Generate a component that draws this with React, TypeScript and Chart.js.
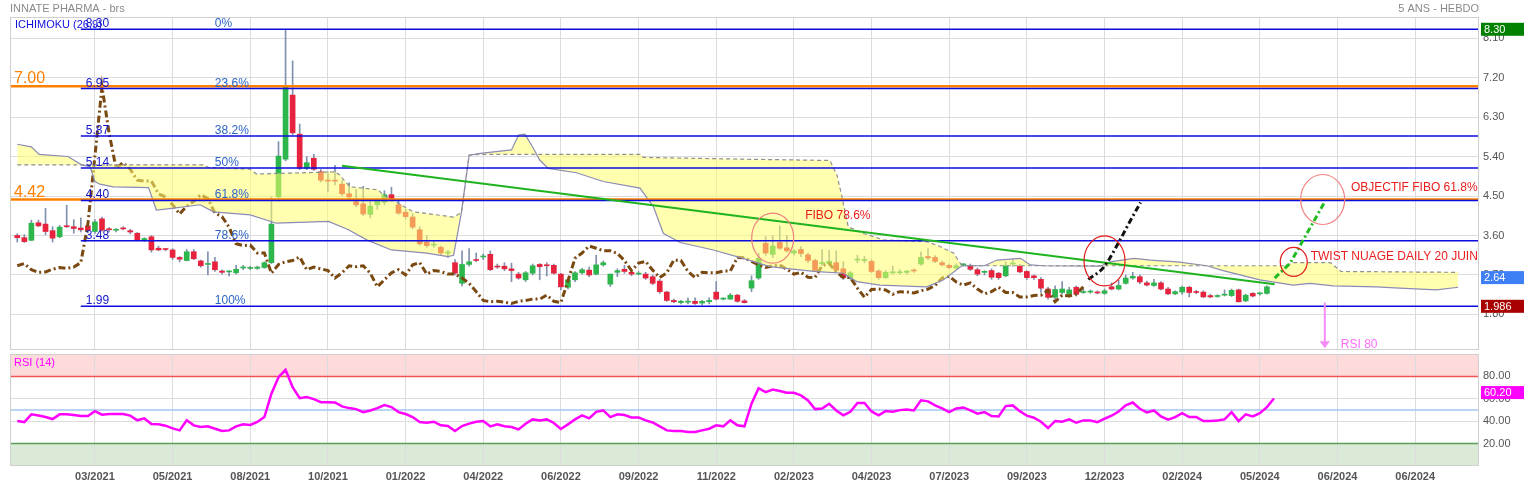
import React, { useEffect, useRef } from 'react';
import { Chart, registerables } from 'chart.js';

Chart.register(...registerables);

const FONT = "'Liberation Sans', Arial, sans-serif";

// ---------- axis / labels ----------
const xLabels = ['03/2021', '05/2021', '08/2021', '10/2021', '01/2022', '04/2022', '06/2022', '09/2022', '11/2022', '02/2023', '04/2023', '07/2023', '09/2023', '12/2023', '02/2024', '05/2024', '06/2024', '06/2024'];
const priceTicks = [1.8, 2.7, 3.6, 4.5, 5.4, 6.3, 7.2, 8.1];
const rsiTicks = [20, 40, 60, 80];

// ---------- weekly candles (index 0 .. 177) ----------
const opens = [
  3.60, 3.55, 3.49, 3.89, 3.86, 3.71, 3.57, 3.82, 3.80, 3.77,
  3.82, 3.69, 3.98, 3.74, 3.72, 3.77, 3.71, 3.65, 3.50, 3.57,
  3.31, 3.29, 3.27, 3.10, 3.03, 3.23, 3.02, 2.94, 3.00, 2.79,
  2.77, 2.75, 2.86, 2.85, 2.85, 2.87, 2.98, 4.48, 5.34, 6.80,
  5.91, 5.13, 5.36, 5.05, 4.86, 4.85, 4.77, 4.55, 4.37, 4.32,
  4.08, 4.30, 4.36, 4.53, 4.30, 4.13, 4.02, 3.73, 3.45, 3.38,
  3.33, 3.20, 2.98, 2.51, 2.94, 3.05, 3.11, 3.17, 2.90, 2.90,
  2.84, 2.72, 2.59, 2.74, 2.94, 2.92, 2.92, 2.72, 2.42, 2.59,
  2.75, 2.81, 2.72, 2.93, 2.49, 2.76, 2.83, 2.76, 2.72, 2.72,
  2.66, 2.56, 2.31, 2.12, 2.07, 2.08, 2.10, 2.06, 2.09, 2.31,
  2.15, 2.15, 2.24, 2.11, 2.40, 2.63, 3.42, 3.17, 3.44, 3.32,
  3.20, 3.28, 3.16, 3.03, 2.96, 2.96, 2.98, 2.84, 2.63, 3.04,
  3.03, 3.01, 2.79, 2.64, 2.75, 2.75, 2.76, 2.81, 2.95, 3.12,
  3.10, 2.98, 2.92, 2.86, 2.93, 2.91, 2.82, 2.76, 2.80, 2.74,
  2.68, 2.95, 2.90, 2.78, 2.68, 2.60, 2.38, 2.19, 2.30, 2.26,
  2.42, 2.30, 2.31, 2.31, 2.28, 2.43, 2.38, 2.51, 2.63, 2.66,
  2.52, 2.46, 2.52, 2.38, 2.27, 2.31, 2.42, 2.31, 2.31, 2.23,
  2.21, 2.24, 2.23, 2.36, 2.11, 2.28, 2.27, 2.28,
];
const highs = [
  3.64, 3.62, 3.95, 3.95, 4.22, 3.80, 3.83, 4.29, 3.96, 4.00,
  3.90, 3.96, 4.02, 3.78, 3.76, 3.80, 3.74, 3.67, 3.55, 3.60,
  3.36, 3.30, 3.30, 3.12, 3.28, 3.28, 3.04, 3.23, 3.10, 2.82,
  2.80, 2.92, 2.92, 2.90, 2.90, 3.00, 4.48, 5.74, 8.30, 7.58,
  6.14, 5.40, 5.45, 5.10, 5.05, 5.20, 4.85, 4.80, 4.65, 4.72,
  4.40, 4.45, 4.62, 4.70, 4.42, 4.20, 4.10, 3.80, 3.60, 3.48,
  3.36, 3.26, 3.05, 3.25, 3.30, 3.20, 3.18, 3.25, 2.95, 2.98,
  2.97, 2.76, 2.78, 2.95, 2.96, 2.98, 2.95, 2.74, 2.62, 2.78,
  2.85, 2.88, 3.15, 3.02, 2.72, 2.84, 2.92, 2.80, 2.78, 2.76,
  2.70, 2.60, 2.33, 2.15, 2.12, 2.18, 2.18, 2.12, 2.18, 2.55,
  2.18, 2.28, 2.26, 2.14, 2.68, 3.20, 3.58, 3.60, 3.82, 3.60,
  3.28, 3.35, 3.20, 3.06, 3.28, 3.26, 3.25, 3.00, 2.78, 3.15,
  3.12, 3.05, 2.82, 2.80, 2.90, 2.82, 2.80, 2.84, 3.22, 3.30,
  3.14, 3.02, 2.95, 2.95, 2.96, 2.95, 2.86, 2.80, 2.84, 2.76,
  3.00, 3.05, 2.94, 2.80, 2.70, 2.64, 2.42, 2.45, 2.55, 2.42,
  2.45, 2.38, 2.36, 2.34, 2.38, 2.52, 2.58, 2.70, 2.76, 2.70,
  2.56, 2.60, 2.55, 2.42, 2.34, 2.45, 2.44, 2.35, 2.34, 2.26,
  2.25, 2.36, 2.38, 2.38, 2.26, 2.30, 2.30, 2.45,
];
const lows = [
  3.45, 3.44, 3.48, 3.80, 3.62, 3.45, 3.55, 3.78, 3.65, 3.68,
  3.66, 3.65, 3.70, 3.68, 3.68, 3.73, 3.64, 3.48, 3.46, 3.22,
  3.25, 3.25, 3.05, 3.00, 3.02, 3.05, 2.88, 2.70, 2.78, 2.72,
  2.68, 2.72, 2.82, 2.82, 2.83, 2.85, 2.96, 4.38, 5.30, 5.90,
  5.10, 5.10, 5.08, 4.82, 4.60, 4.75, 4.50, 4.40, 4.25, 4.05,
  4.00, 4.20, 4.30, 4.38, 4.08, 3.98, 3.75, 3.38, 3.33, 3.33,
  3.15, 3.10, 2.70, 2.45, 2.90, 3.00, 3.05, 2.80, 2.85, 2.80,
  2.55, 2.60, 2.55, 2.70, 2.59, 2.68, 2.72, 2.36, 2.38, 2.55,
  2.72, 2.66, 2.70, 2.90, 2.44, 2.66, 2.74, 2.68, 2.70, 2.60,
  2.48, 2.28, 2.10, 2.07, 2.04, 2.04, 2.03, 2.02, 2.04, 2.13,
  2.13, 2.14, 2.08, 2.06, 2.32, 2.60, 3.15, 3.10, 3.28, 3.22,
  3.15, 3.12, 2.98, 2.78, 2.92, 2.92, 2.78, 2.60, 2.60, 2.98,
  2.98, 2.75, 2.60, 2.62, 2.72, 2.72, 2.72, 2.76, 2.92, 3.05,
  2.98, 2.90, 2.84, 2.84, 2.90, 2.80, 2.68, 2.70, 2.60, 2.60,
  2.66, 2.90, 2.75, 2.60, 2.60, 2.30, 2.15, 2.16, 2.26, 2.20,
  2.22, 2.28, 2.28, 2.27, 2.26, 2.36, 2.36, 2.49, 2.60, 2.50,
  2.45, 2.44, 2.36, 2.25, 2.25, 2.26, 2.20, 2.27, 2.18, 2.18,
  2.19, 2.22, 2.21, 2.08, 2.09, 2.20, 2.24, 2.26,
];
const closes = [
  3.55, 3.46, 3.88, 3.82, 3.69, 3.54, 3.79, 3.80, 3.76, 3.73,
  3.73, 3.91, 3.72, 3.73, 3.72, 3.75, 3.68, 3.50, 3.53, 3.27,
  3.27, 3.28, 3.10, 3.06, 3.23, 3.07, 2.91, 2.96, 2.82, 2.76,
  2.77, 2.83, 2.87, 2.85, 2.88, 2.98, 3.86, 5.41, 6.99, 5.94,
  5.13, 5.26, 5.11, 4.86, 4.84, 4.84, 4.55, 4.48, 4.30, 4.09,
  4.27, 4.38, 4.53, 4.44, 4.11, 4.03, 3.79, 3.41, 3.37, 3.38,
  3.20, 3.20, 2.74, 2.94, 3.00, 3.03, 3.11, 2.82, 2.88, 2.84,
  2.80, 2.63, 2.75, 2.91, 2.89, 2.91, 2.74, 2.43, 2.59, 2.75,
  2.82, 2.70, 2.93, 2.98, 2.72, 2.80, 2.78, 2.72, 2.72, 2.63,
  2.51, 2.32, 2.12, 2.09, 2.10, 2.08, 2.05, 2.10, 2.12, 2.15,
  2.15, 2.24, 2.10, 2.07, 2.57, 3.08, 3.20, 3.36, 3.31, 3.25,
  3.25, 3.19, 3.03, 2.80, 2.97, 3.01, 2.81, 2.64, 2.75, 3.04,
  3.03, 2.78, 2.64, 2.76, 2.75, 2.75, 2.79, 2.79, 3.10, 3.09,
  3.01, 2.93, 2.87, 2.91, 2.93, 2.83, 2.72, 2.76, 2.65, 2.64,
  2.91, 2.96, 2.77, 2.64, 2.64, 2.40, 2.19, 2.37, 2.38, 2.36,
  2.26, 2.32, 2.31, 2.29, 2.34, 2.38, 2.46, 2.63, 2.67, 2.54,
  2.47, 2.52, 2.38, 2.27, 2.32, 2.42, 2.30, 2.30, 2.20, 2.20,
  2.23, 2.24, 2.35, 2.09, 2.24, 2.22, 2.27, 2.43,
];
const CHIKOU_SHIFT = 26;

// ---------- Ichimoku cloud spans: [week index, price] ----------
const senkouSolid = [
  [0, 5.68], [2.0, 5.62], [3.1, 5.45], [7.2, 5.40], [9.1, 5.21], [10.3, 5.17], [11.0, 4.83], [11.7, 4.77],
  [13.6, 4.71], [18.6, 4.69], [19.7, 4.18], [21.9, 4.22], [25.9, 4.30], [27.8, 4.14], [33.0, 4.07], [36.7, 3.88],
  [44.1, 3.92], [46.9, 3.73], [49.5, 3.50], [53.0, 3.27], [58.0, 3.20], [61.0, 3.12], [61.8, 3.15], [62.9, 4.11],
  [64.0, 5.43], [65.6, 5.47], [70.0, 5.55], [71.0, 5.89], [71.9, 5.91], [73.1, 5.59], [74.0, 5.32], [75.2, 5.13],
  [79.2, 5.03], [83.0, 4.83], [88.2, 4.68], [90.1, 4.26], [91.5, 3.65], [93.9, 3.44], [98.6, 3.27], [102.8, 3.08],
  [106.6, 2.89], [112.8, 2.78], [117.0, 2.74], [118.9, 2.55], [122.2, 2.47], [128.8, 2.43], [131.2, 2.59], [133.8, 2.91],
  [137.0, 2.91], [138.8, 3.04], [142.1, 3.08], [143.5, 2.93], [145.3, 2.91], [153.4, 2.90], [154.8, 3.00], [158.2, 3.08],
  [160.5, 3.04], [164.3, 3.00], [168.5, 2.91], [170.8, 2.80], [176.0, 2.59], [180.7, 2.47], [183.1, 2.51], [186.4, 2.45],
  [192.5, 2.43], [195.8, 2.40], [201.0, 2.36], [204.1, 2.42],
];
const senkouDashed = [
  [0, 5.21], [26.3, 5.21], [27.1, 5.15], [33.0, 5.11], [33.9, 5.00], [45.0, 5.05], [45.5, 5.00], [47.1, 4.71],
  [51.1, 4.64], [51.9, 4.52], [56.1, 4.14], [61.8, 4.02], [62.9, 4.12], [64.0, 5.43], [65.5, 5.45], [88.2, 5.45],
  [88.7, 5.38], [102.4, 5.34], [115.1, 5.31], [116.1, 4.98], [116.8, 4.49], [117.7, 3.80], [119.8, 3.65], [122.7, 3.50],
  [128.8, 3.46], [130.7, 3.35], [132.6, 3.20], [133.8, 2.91], [179.5, 2.91], [180.8, 2.98], [186.0, 2.98], [187.5, 2.78],
  [204.1, 2.76],
];

// ---------- drawn lines ----------
const trendLine = [[46.0, 5.19], [178.1, 2.49]];
const blackProjection = [[151.7, 2.60], [153.9, 2.88], [156.2, 3.50], [157.6, 3.92], [159.1, 4.35]];
const greenProjection = [[178.1, 2.63], [180.3, 2.97], [185.2, 4.37]];
const fibLevels = [8.30, 6.95, 5.87, 5.14, 4.40, 3.48, 1.99];
const fibPercents = ['0%', '23.6%', '38.2%', '50%', '61.8%', '78.6%', '100%'];
const FIB_START = 9;
const orangeLevels = [7.00, 4.42];

// ---------- annotations (data coordinates) ----------
const ellipses = [
  { x: 107.0, y: 3.54, rx: 21, ry: 25, strong: false },
  { x: 154.0, y: 3.02, rx: 20.5, ry: 25, strong: true },
  { x: 184.9, y: 4.42, rx: 22, ry: 25, strong: false },
  { x: 180.8, y: 3.0, rx: 13.5, ry: 14.5, strong: true },
];
const notes = [
  { text: 'FIBO 78.6%', x: 111.6, y: 4.05 },
  { text: 'OBJECTIF FIBO 61.8%', x: 188.9, y: 4.70 },
  { text: 'TWIST NUAGE DAILY 20 JUIN', x: 183.2, y: 3.12 },
];
const rsiArrow = { x: 185.2, from: 2.07, to: 1.03, labelY: 1.11 };
const priceTags = [
  { v: 8.30, text: '8.30', bg: '#008000' },
  { v: 2.64, text: '2.64', bg: '#3f7ff5' },
  { v: 1.986, text: '1.986', bg: '#a80000' },
];

// ---------- RSI (index 0 .. 178) ----------
const rsi = [
  40.1, 39.2, 46.1, 45, 43.7, 41.9, 46.1, 46.1, 45.5, 44.7,
  44.7, 49, 45.8, 46.4, 46.4, 46.4, 45, 40.8, 42.5, 37.5,
  37.2, 36, 33.6, 31.8, 40.8, 36.3, 34.8, 35.4, 33.3, 31.2,
  31.8, 35.4, 37.2, 36.6, 39.3, 43.7, 64.5, 79.3, 85.9, 70.4,
  60.6, 61.5, 59.7, 57, 57, 56.7, 53.2, 51.7, 50.8, 48.1,
  49.6, 51.7, 54.4, 52.6, 48.1, 46.4, 43.7, 39.2, 38.6, 39.5,
  36.3, 35.7, 31.2, 35.7, 37.8, 39.5, 40.1, 35.4, 37.2, 35.5,
  34.8, 32.7, 37.8, 41.6, 40.7, 41.6, 38.4, 33, 37.2, 41.6,
  45.2, 42.5, 48.4, 49.6, 43.7, 46.1, 45.5, 43.4, 43.4, 40.7,
  38.9, 35.4, 31.8, 31.2, 31.2, 30.3, 30.3, 31.8, 33.3, 36.3,
  35.4, 40.7, 36.3, 35.4, 55.6, 69.5, 66, 68.3, 66.9, 65.4,
  65.4, 63, 58.6, 50.8, 51.4, 55.6, 49.6, 45.2, 48.4, 56.2,
  56.2, 48.7, 45.2, 49, 48.4, 49.9, 50.5, 49.6, 58.6, 57.7,
  54.1, 51.4, 48.1, 51.4, 52.3, 49.6, 46.7, 48.1, 44.6, 44.3,
  53.5, 54.1, 49, 44.9, 43.1, 39.5, 33.9, 40.1, 39.5, 41.6,
  38.6, 40.7, 40.7, 39.2, 42.2, 44.9, 48.7, 54.1, 56.7, 51.1,
  47.8, 49.6, 44.3, 41.3, 43.7, 47.2, 43.7, 43.7, 40.1, 40.1,
  40.7, 41.6, 48.1, 40.1, 46.1, 44.3, 47.2, 52.6, 60.2,
];

// ---------- layout constants ----------
const XMIN = -1.03;
const XMAX = 206.9;
const gridIdx = xLabels.map((_, k) => 11 + 11 * k);
const UP = '#2db64c';
const DOWN = '#e6223d';
const WICK = '#8090ad';

const pts = (arr: number[][]) => arr.map(([x, y]) => ({ x, y }));

const mainDeco = {
  id: 'mainDeco',
  afterDatasetsDraw(chart: any) {
    const { ctx, chartArea: a } = chart;
    const xs = chart.scales.x;
    const ys = chart.scales.y;
    ctx.save();
    ctx.textAlign = 'left';
    ctx.textBaseline = 'alphabetic';
    ctx.font = `12px ${FONT}`;
    const fx = xs.getPixelForValue(FIB_START);
    fibLevels.forEach((lv, k) => {
      const py = ys.getPixelForValue(lv);
      ctx.fillStyle = '#1414c8';
      ctx.fillText(lv.toFixed(2), fx + 5, py - 2);
      ctx.fillStyle = '#2c64c6';
      ctx.fillText(fibPercents[k], fx + 134, py - 2);
    });
    ctx.font = `16px ${FONT}`;
    ctx.fillStyle = '#ff8000';
    orangeLevels.forEach((lv) => ctx.fillText(lv.toFixed(2), a.left + 4, ys.getPixelForValue(lv) - 3));

    ctx.font = `11px ${FONT}`;
    ctx.fillStyle = '#1010dd';
    ctx.textBaseline = 'middle';
    ctx.fillText('ICHIMOKU (26,9)', a.left + 5, a.top + 8);

    ellipses.forEach((e) => {
      ctx.beginPath();
      ctx.ellipse(xs.getPixelForValue(e.x), ys.getPixelForValue(e.y), e.rx, e.ry, 0, 0, Math.PI * 2);
      ctx.strokeStyle = e.strong ? '#e21a1a' : '#f08080';
      ctx.lineWidth = 1.2;
      ctx.stroke();
    });

    ctx.font = `12px ${FONT}`;
    ctx.fillStyle = '#e81c1c';
    notes.forEach((n) => ctx.fillText(n.text, xs.getPixelForValue(n.x), ys.getPixelForValue(n.y)));

    const ax = xs.getPixelForValue(rsiArrow.x);
    const ay0 = ys.getPixelForValue(rsiArrow.from);
    const ay1 = ys.getPixelForValue(rsiArrow.to);
    ctx.strokeStyle = '#f68af6';
    ctx.lineWidth = 2;
    ctx.beginPath();
    ctx.moveTo(ax, ay0);
    ctx.lineTo(ax, ay1 - 6);
    ctx.stroke();
    ctx.fillStyle = '#f68af6';
    ctx.beginPath();
    ctx.moveTo(ax - 5, ay1 - 7);
    ctx.lineTo(ax + 5, ay1 - 7);
    ctx.lineTo(ax, ay1);
    ctx.closePath();
    ctx.fill();
    ctx.fillStyle = '#ff6cff';
    ctx.fillText('RSI 80', ax + 16, ys.getPixelForValue(rsiArrow.labelY));
    ctx.restore();
  },
  afterDraw(chart: any) {
    const { ctx, chartArea: a } = chart;
    const ys = chart.scales.y;
    ctx.save();
    ctx.strokeStyle = '#cfcfcf';
    ctx.lineWidth = 1;
    ctx.strokeRect(a.left + 0.5, a.top + 0.5, a.right - a.left, a.bottom - a.top - 1);
    ctx.font = `11px ${FONT}`;
    ctx.textBaseline = 'middle';
    ctx.textAlign = 'left';
    priceTags.forEach((t) => {
      const py = ys.getPixelForValue(t.v);
      ctx.fillStyle = t.bg;
      ctx.fillRect(a.right + 3, py - 6.5, chart.width - a.right - 3, 13);
      ctx.fillStyle = '#ffffff';
      ctx.fillText(t.text, a.right + 6, py + 0.5);
    });
    ctx.fillStyle = '#8a8a8a';
    ctx.fillText('INNATE PHARMA - brs', a.left, 9);
    ctx.textAlign = 'right';
    ctx.fillText('5 ANS - HEBDO', a.right + 1, 9);
    ctx.restore();
  },
};

const rsiDeco = {
  id: 'rsiDeco',
  beforeDraw(chart: any) {
    const { ctx, chartArea: a } = chart;
    const ys = chart.scales.y;
    ctx.save();
    const y100 = ys.getPixelForValue(100);
    const y80 = ys.getPixelForValue(80);
    const y20 = ys.getPixelForValue(20);
    const y0 = ys.getPixelForValue(0);
    ctx.fillStyle = 'rgba(250,60,60,0.19)';
    ctx.fillRect(a.left, y100, a.right - a.left, y80 - y100);
    ctx.fillStyle = 'rgba(70,150,50,0.2)';
    ctx.fillRect(a.left, y20, a.right - a.left, y0 - y20);
    ctx.restore();
  },
  beforeDatasetsDraw(chart: any) {
    const { ctx, chartArea: a } = chart;
    const ys = chart.scales.y;
    ctx.save();
    const lines: [number, string][] = [[80, '#f05555'], [50, '#a6c6f0'], [20, '#5a9e5a']];
    lines.forEach(([v, c]) => {
      const py = ys.getPixelForValue(v);
      ctx.strokeStyle = c;
      ctx.lineWidth = 1.5;
      ctx.beginPath();
      ctx.moveTo(a.left, py);
      ctx.lineTo(a.right, py);
      ctx.stroke();
    });
    ctx.restore();
  },
  afterDraw(chart: any) {
    const { ctx, chartArea: a } = chart;
    const ys = chart.scales.y;
    ctx.save();
    ctx.strokeStyle = '#cfcfcf';
    ctx.lineWidth = 1;
    ctx.strokeRect(a.left + 0.5, a.top + 0.5, a.right - a.left, a.bottom - a.top - 1);
    ctx.font = `11px ${FONT}`;
    ctx.textBaseline = 'middle';
    ctx.textAlign = 'left';
    ctx.fillStyle = '#ff00ff';
    ctx.fillText('RSI (14)', a.left + 4, a.top + 9);
    const last = rsi[rsi.length - 1];
    const py = ys.getPixelForValue(last) - 6;
    ctx.fillRect(a.right + 3, py - 6.5, chart.width - a.right - 3, 13);
    ctx.fillStyle = '#ffffff';
    ctx.fillText(last.toFixed(2), a.right + 6, py + 0.5);
    ctx.restore();
  },
};

function buildMain(): any {
  const datasets: any[] = [];
  datasets.push({
    type: 'bar', label: 'wicks',
    data: highs.map((h, k) => ({ x: k, y: [lows[k], h] })),
    backgroundColor: WICK, barThickness: 1, grouped: false, order: 10,
  });
  datasets.push({
    type: 'bar', label: 'bodies',
    data: opens.map((o, k) => ({ x: k, y: [o, closes[k]] })),
    backgroundColor: opens.map((o, k) => (closes[k] >= o ? UP : DOWN)),
    barThickness: 5, grouped: false, minBarLength: 1, order: 9,
  });
  datasets.push({
    type: 'line', label: 'chikou',
    data: closes.slice(CHIKOU_SHIFT).map((c, k) => ({ x: k, y: c })),
    borderColor: '#7a4912', borderWidth: 3, borderDash: [7, 3, 2, 3], pointRadius: 0, order: 8,
  });
  const solidIndex = datasets.length;
  datasets.push({
    type: 'line', label: 'senkouA', data: pts(senkouSolid),
    borderColor: '#8b8bb5', borderWidth: 1.2, pointRadius: 0,
    fill: { target: solidIndex + 1 }, backgroundColor: 'rgba(255,255,110,0.55)', order: 7,
  });
  datasets.push({
    type: 'line', label: 'senkouB', data: pts(senkouDashed),
    borderColor: '#8f8f8f', borderWidth: 1.2, borderDash: [4, 3], pointRadius: 0, fill: false, order: 6,
  });
  fibLevels.forEach((lv) => {
    datasets.push({
      type: 'line', data: [{ x: FIB_START, y: lv }, { x: XMAX, y: lv }],
      borderColor: '#0b0be0', borderWidth: 1.5, pointRadius: 0, order: 5,
    });
  });
  orangeLevels.forEach((lv) => {
    datasets.push({
      type: 'line', data: [{ x: XMIN, y: lv }, { x: XMAX, y: lv }],
      borderColor: '#ff8000', borderWidth: 2.5, pointRadius: 0, order: 5,
    });
  });
  datasets.push({
    type: 'line', data: pts(trendLine), borderColor: '#1fb41f', borderWidth: 2, pointRadius: 0, order: 4,
  });
  datasets.push({
    type: 'line', data: pts(blackProjection), borderColor: '#111111', borderWidth: 3,
    borderDash: [6, 3, 2, 3], pointRadius: 0, cubicInterpolationMode: 'monotone', order: 3,
  });
  datasets.push({
    type: 'line', data: pts(greenProjection), borderColor: '#22bb22', borderWidth: 3,
    borderDash: [6, 3, 2, 3], pointRadius: 0, order: 3,
  });

  return {
    type: 'bar',
    data: { datasets },
    options: {
      animation: false,
      responsive: false,
      events: [],
      layout: { padding: { left: 10, top: 17, right: 0, bottom: 2 } },
      plugins: { legend: { display: false }, tooltip: { enabled: false } },
      scales: {
        x: {
          type: 'linear', min: XMIN, max: XMAX, offset: false,
          afterBuildTicks: (s: any) => { s.ticks = gridIdx.map((v) => ({ value: v })); },
          ticks: { display: false },
          grid: { color: '#dcdcdc', drawTicks: false, offset: false },
          border: { display: false },
          afterFit: (s: any) => { s.height = 0; s.paddingLeft = 0; s.paddingRight = 0; },
        },
        y: {
          type: 'linear', position: 'right', min: 0.99, max: 8.58,
          afterBuildTicks: (s: any) => { s.ticks = priceTicks.map((v) => ({ value: v })); },
          ticks: {
            autoSkip: false, color: '#555555', font: { size: 11 }, padding: 5,
            callback: (v: any) => Number(v).toFixed(2),
          },
          grid: { color: '#dcdcdc', drawTicks: false },
          border: { display: false },
          afterFit: (s: any) => { s.width = 46; s.paddingTop = 0; s.paddingBottom = 0; },
        },
      },
    },
    plugins: [mainDeco],
  };
}

function buildRsi(): any {
  return {
    type: 'line',
    data: {
      datasets: [{
        data: rsi.map((v, k) => ({ x: k, y: v })),
        borderColor: '#ff00ff', borderWidth: 2.5, pointRadius: 0,
      }],
    },
    options: {
      animation: false,
      responsive: false,
      events: [],
      layout: { padding: { left: 10, top: 2, right: 0, bottom: 0 } },
      plugins: { legend: { display: false }, tooltip: { enabled: false } },
      scales: {
        x: {
          type: 'linear', min: XMIN, max: XMAX, offset: false,
          afterBuildTicks: (s: any) => { s.ticks = gridIdx.map((v) => ({ value: v })); },
          ticks: {
            autoSkip: false, maxRotation: 0, minRotation: 0, color: '#555555',
            font: { size: 11, weight: 'bold' }, padding: 4,
            callback: (_v: any, i: number) => xLabels[i],
          },
          grid: { color: '#dcdcdc', drawTicks: false, offset: false },
          border: { display: false },
          afterFit: (s: any) => { s.height = 19; s.paddingLeft = 0; s.paddingRight = 0; },
        },
        y: {
          type: 'linear', position: 'right', min: 0, max: 100,
          afterBuildTicks: (s: any) => { s.ticks = rsiTicks.map((v) => ({ value: v })); },
          ticks: {
            autoSkip: false, color: '#555555', font: { size: 11 }, padding: 5,
            callback: (v: any) => Number(v).toFixed(2),
          },
          grid: { color: '#dcdcdc', drawTicks: false },
          border: { display: false },
          afterFit: (s: any) => { s.width = 46; s.paddingTop = 0; s.paddingBottom = 0; },
        },
      },
    },
    plugins: [rsiDeco],
  };
}

export default function App() {
  const mainRef = useRef<HTMLCanvasElement>(null);
  const rsiRef = useRef<HTMLCanvasElement>(null);

  useEffect(() => {
    Chart.defaults.font.family = FONT;
    const main = new Chart(mainRef.current as HTMLCanvasElement, buildMain());
    const rsiChart = new Chart(rsiRef.current as HTMLCanvasElement, buildRsi());
    return () => {
      main.destroy();
      rsiChart.destroy();
    };
  }, []);

  return (
    <div style={{ position: 'absolute', left: 0, top: 0, width: 1524, height: 485, background: '#ffffff' }}>
      <canvas ref={mainRef} width={1524} height={352}
        style={{ position: 'absolute', left: 0, top: 0, width: 1524, height: 352 }} />
      <canvas ref={rsiRef} width={1524} height={133}
        style={{ position: 'absolute', left: 0, top: 352, width: 1524, height: 133 }} />
    </div>
  );
}
